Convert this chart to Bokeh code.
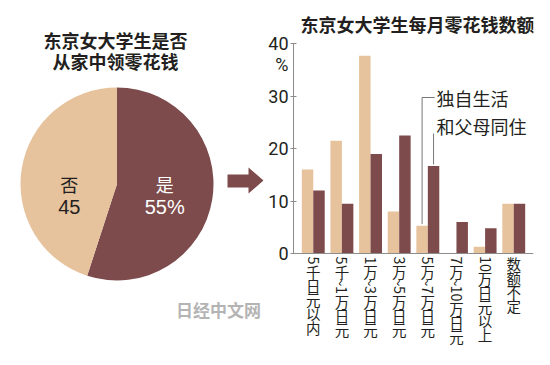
import math
from bokeh.plotting import figure
from bokeh.layouts import row
from bokeh.models import Range1d, FactorRange, FixedTicker, Span, ColumnDataSource
from bokeh.transform import dodge
from bokeh.core.properties import value
from bokeh.embed import file_html
from bokeh.resources import INLINE

# ---------------- data ----------------
pie_title = ["东京女大学生是否", "从家中领零花钱"]
pie_labels = ["是", "否"]
pie_shares = [55, 45]
pie_value_texts = ["55%", "45"]

bar_title = "东京女大学生每月零花钱数额"
categories = ["5千日元以内", "5千~1万日元", "1万~3万日元", "3万~5万日元",
              "5万~7万日元", "7万~10万日元", "10万日元以上", "数额不定"]
series_names = ["独自生活", "和父母同住"]
living_alone = [16.0, 21.5, 37.7, 8.0, 5.3, 0.0, 1.3, 9.5]
with_parents = [12.0, 9.5, 19.0, 22.5, 16.7, 6.0, 4.8, 9.5]
y_ticks = [0, 10, 20, 30, 40]
y_unit = "%"
unit_tick = 36
annot_index = 4
watermark = "日经中文网"

TAN = "#E6C29D"
MAROON = "#7D4B4C"
INK = "#231f20"
AXIS = "#8c8c8c"
CJK = "Noto Sans CJK SC"
H = 349

# ---------------- left: pie ----------------
LW = 265
p1 = figure(width=LW, height=H, x_range=Range1d(0, LW), y_range=Range1d(0, H),
            x_axis_location=None, y_axis_location=None, min_border=0,
            output_backend="svg", toolbar_location=None)
p1.grid.visible = False
p1.outline_line_color = None

cx, cy, r = 116.5, 165.5, 96.5
starts, ends, mids = [], [], []
acc = math.pi / 2
for s in pie_shares:
    a = 2 * math.pi * s / sum(pie_shares)
    starts.append(acc)
    ends.append(acc - a)
    mids.append(acc - a / 2)
    acc -= a
p1.wedge(x=cx, y=cy, radius=r, start_angle=starts, end_angle=ends,
         direction="clock", color=[MAROON, TAN], line_color=None)

lx = [cx + 0.5 * r * math.cos(m) for m in mids]
p1.text(x=lx, y=[cy + 0.5] * 2, text=pie_labels, text_align="center",
        text_baseline="middle", text_color=["white", INK],
        text_font=value(CJK), text_font_size="18px")
p1.text(x=lx, y=[cy - 23] * 2, text=pie_value_texts, text_align="center",
        text_baseline="middle", text_color=["white", INK],
        text_font=value("Liberation Sans"), text_font_size="20px")

p1.text(x=[115, 115], y=[310, 289], text=pie_title, text_align="center",
        text_baseline="middle", text_color=INK, text_font=value(CJK),
        text_font_size="18px", text_font_style="bold")

ax = [227, 248, 248, 263, 248, 248, 227]
ay = [175, 175, 182, 169, 156, 162, 162]
p1.patch(ax, ay, color=MAROON, line_color=None)

p1.text(x=[218], y=[40], text=[watermark], text_align="center",
        text_baseline="middle", text_color="#b4b4b4", text_font=value(CJK),
        text_font_size="17px", text_font_style="bold")

# ---------------- right: bars ----------------
RW = 534 - LW
ZERO = 253.0         # pixel row of 0 %
PX = (ZERO - 43.3) / 40
Y_TOP = ZERO / PX
Y_BOT = (ZERO - H) / PX
src = ColumnDataSource(dict(cat=categories, alone=living_alone, parents=with_parents))
p2 = figure(width=RW, height=H,
            x_range=FactorRange(factors=categories, range_padding=0.19,
                                range_padding_units="absolute"),
            y_range=Range1d(Y_BOT, Y_TOP), x_axis_location=None,
            min_border_left=26, min_border_right=1, min_border_top=0,
            min_border_bottom=0,
            output_backend="svg", toolbar_location=None)
p2.grid.visible = False
p2.outline_line_color = None

p2.vbar(x=dodge("cat", -0.2, range=p2.x_range), top="alone", width=0.4,
        source=src, color=TAN, line_color=None)
p2.vbar(x=dodge("cat", 0.2, range=p2.x_range), top="parents", width=0.4,
        source=src, color=MAROON, line_color=None)

# baseline (x axis line)
p2.add_layout(Span(location=0, dimension="width", line_color=AXIS, line_width=1))

# title
p2.text(x=[(categories[4], -0.36)], y=[(ZERO - 23) / PX], text=[bar_title],
        text_align="center", text_baseline="middle", text_color=INK,
        text_font=value(CJK), text_font_size="18px", text_font_style="bold")

# annotation leader lines
c = categories[annot_index]
y_alone_txt = (ZERO - 97) / PX
y_par_txt = (ZERO - 125) / PX
lead1 = ColumnDataSource(dict(x=[(c, -0.2), (c, -0.2), (c, 0.24)],
                              y=[living_alone[annot_index] + 0.3, y_alone_txt, y_alone_txt]))
p2.line(x="x", y="y", source=lead1, line_color="#777777", line_width=1)
lead2 = ColumnDataSource(dict(x=[(c, 0.2), (c, 0.2)],
                              y=[with_parents[annot_index] + 0.3, (ZERO - 133) / PX]))
p2.line(x="x", y="y", source=lead2, line_color="#777777", line_width=1)
tsrc = ColumnDataSource(dict(x=[(c, 0.3), (c, 0.3)], y=[y_alone_txt, y_par_txt],
                             t=series_names))
p2.text(x="x", y="y", text="t", source=tsrc, text_baseline="middle",
        text_color=INK, text_font=value(CJK), text_font_size="18px")

# vertical category labels: CJK upright, digits and tilde turned clockwise
lab_x, lab_y, lab_t, lab_a = [], [], [], []
for cat in categories:
    tokens, buf = [], ""
    for ch in cat:
        if ch.isdigit():
            buf += ch
            continue
        if buf:
            tokens.append(buf)
            buf = ""
        tokens.append(ch)
    if buf:
        tokens.append(buf)
    pos = 3.0  # px below baseline
    for tk in tokens:
        if tk[0].isdigit():
            h, ang = 7.0 * len(tk) + 1, -math.pi / 2
        elif tk == "~":
            h, ang = 7.5, -math.pi / 2
        else:
            h, ang = 14.0, 0.0
        lab_x.append(cat)
        lab_y.append(-(pos + h / 2) / PX)
        lab_t.append(tk)
        lab_a.append(ang)
        pos += h
lsrc = ColumnDataSource(dict(x=lab_x, y=lab_y, t=lab_t, a=lab_a))
p2.text(x="x", y="y", text="t", angle="a", source=lsrc, text_align="center",
        text_baseline="middle", text_color=INK, text_font=value(CJK),
        text_font_size="14.5px")

# y axis: labelled major ticks (numbers + unit), tick marks drawn as minor ticks
ya = p2.yaxis[0]
ya.ticker = FixedTicker(ticks=y_ticks + [unit_tick], minor_ticks=y_ticks)
ya.major_label_overrides = {unit_tick: y_unit}
ya.bounds = (0, 40)
ya.axis_line_color = AXIS
ya.major_tick_line_color = None
ya.major_tick_in = 0
ya.major_tick_out = 3
ya.minor_tick_line_color = AXIS
ya.minor_tick_in = 3
ya.minor_tick_out = 3
ya.major_label_standoff = 2
ya.major_label_text_font = "Liberation Sans Narrow, Roboto"
ya.major_label_text_font_size = "18px"
ya.major_label_text_color = INK

layout = row(p1, p2)
open("out.html", "w").write(file_html(layout, INLINE))
